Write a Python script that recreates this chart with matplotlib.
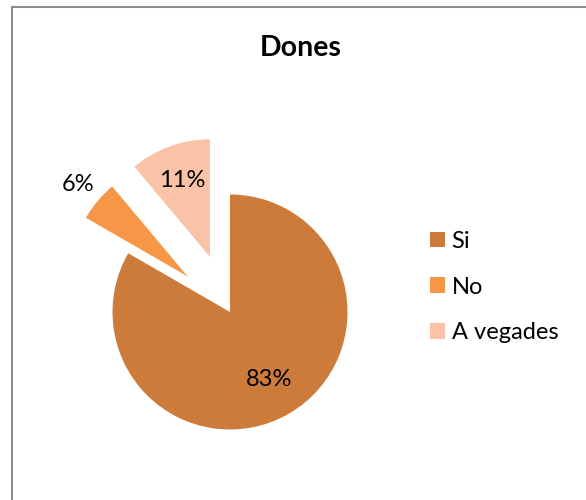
import matplotlib
matplotlib.use("Agg")
import matplotlib.pyplot as plt
from matplotlib.lines import Line2D
from matplotlib.patches import Patch
import numpy as np

# survey answers (women)
categories = ["Si", "No", "A vegades"]
counts = [15, 1, 2]
colors = ["#CC7B3A", "#F79646", "#FAC2A6"]
explode = [0.0, 0.47, 0.5]
label_dist = [0.66, 1.22, 0.69]

W, H = 586, 500
cx, cy, R = 230, 312, 117.5   # pie centre / radius in pixels

plt.rcParams["font.family"] = ["Lato", "DejaVu Sans"]

fig = plt.figure(figsize=(W / 100, H / 100), dpi=100)
ax = fig.add_axes([0, 0, 1, 1])

wedges, _ = ax.pie(counts, colors=colors, explode=explode, startangle=90,
                   counterclock=False, radius=1.0,
                   wedgeprops=dict(linewidth=0))

# percentage labels
total = sum(counts)
for w, c, e, d in zip(wedges, counts, explode, label_dist):
    mid = np.deg2rad((w.theta1 + w.theta2) / 2)
    x = (e + d) * np.cos(mid)
    y = (e + d) * np.sin(mid)
    ax.text(x, y, f"{round(100 * c / total)}%", ha="center", va="center",
            fontsize=17, color="black")

# 1 data unit == R pixels
ax.set_xlim(-cx / R, (W - cx) / R)
ax.set_ylim(-(H - cy) / R, cy / R)
ax.set_aspect("auto")
ax.axis("off")

fig.text(301 / W, 1 - 48 / H, "Dones", ha="center", va="center",
         fontsize=20.5, fontweight="bold")

handles = [Patch(facecolor=col, edgecolor="none") for col in colors]
fig.legend(handles, categories, loc="upper left",
           bbox_to_anchor=(418 / W, 1 - 219 / H), frameon=False,
           fontsize=17, handlelength=0.64, handleheight=0.64,
           handletextpad=0.28, labelspacing=1.05, borderpad=0)

# chart border (left + top edges)
fig.add_artist(Line2D([12 / W, 12 / W], [0, 1 - 7 / H], color="#8C8C8C",
                      linewidth=1.5, transform=fig.transFigure))
fig.add_artist(Line2D([12 / W, 1], [1 - 7 / H, 1 - 7 / H], color="#8C8C8C",
                      linewidth=1.5, transform=fig.transFigure))

fig.savefig("out.png", dpi=100)
